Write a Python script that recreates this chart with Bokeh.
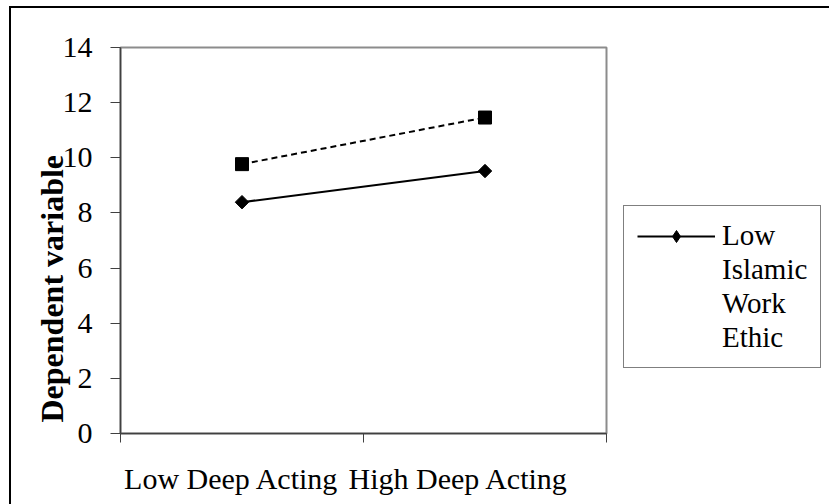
import math
from bokeh.plotting import figure
from bokeh.models import Range1d, FixedTicker, Legend, LegendItem, ColumnDataSource, Title
from bokeh.embed import file_html
from bokeh.resources import INLINE

categories = ["Low Deep Acting", "High Deep Acting"]
cat_pos = [0.5, 1.5]
low_iwe = [8.39, 9.52]
high_iwe = [9.77, 11.46]
y_ticks = [0, 2, 4, 6, 8, 10, 12, 14]
y_title = "Dependent variable"
legend_lines = ["Low", "Islamic", "Work", "Ethic"]

FONT = "Liberation Serif"
# where the category labels sit (they are drawn slightly left of the category centres)
label_pos = [0.457, 1.391]

p = figure(frame_width=486, frame_height=386, output_backend="svg", toolbar_location=None,
           x_range=Range1d(0, 2), y_range=Range1d(0, 14),
           min_border_left=109, min_border_top=39, min_border_bottom=71, min_border_right=5)
p.styles = {"border-top": "2px solid black", "border-left": "2px solid black",
            "margin-left": "9px", "margin-top": "6px"}
p.xgrid.visible = False
p.ygrid.visible = False
p.outline_line_color = "#8c8c8c"
p.outline_line_width = 2

# x axis
xa = p.xaxis[0]
xa.ticker = FixedTicker(ticks=label_pos, minor_ticks=[0, 1, 2])
xa.major_label_overrides = {pos: c for pos, c in zip(label_pos, categories)}
xa.major_tick_in = 0
xa.major_tick_out = 0
xa.minor_tick_in = 0
xa.minor_tick_out = 9
xa.minor_tick_line_color = "#404040"
xa.axis_line_color = "#404040"
xa.axis_line_width = 1.5
xa.major_label_standoff = 19
xa.major_label_text_font = FONT
xa.major_label_text_font_size = "30px"
xa.major_label_text_color = "black"

# y axis
ya = p.yaxis[0]
ya.ticker = FixedTicker(ticks=y_ticks, minor_ticks=[])
ya.major_tick_in = 0
ya.major_tick_out = 10
ya.major_tick_line_color = "#404040"
ya.axis_line_color = "#404040"
ya.axis_line_width = 1.5
ya.major_label_standoff = 18
ya.major_label_text_font = FONT
ya.major_label_text_font_size = "30px"
ya.major_label_text_color = "black"

# y-axis title (sits low and overlaps the tick labels, as in the original)
yt = Title(text=y_title, align="left", offset=11, standoff=-21,
           text_font=FONT, text_font_style="bold", text_font_size="32px",
           text_color="black")
p.add_layout(yt, "left")

src_low = ColumnDataSource(dict(x=cat_pos, y=low_iwe))
src_high = ColumnDataSource(dict(x=cat_pos, y=high_iwe))

l_low = p.line("x", "y", source=src_low, line_color="black", line_width=2)
m_low = p.scatter("x", "y", source=src_low, marker="square", angle=math.pi / 4,
                  size=9.5, fill_color="black", line_color="black")
l_high = p.line("x", "y", source=src_high, line_color="black", line_width=2, line_dash="6 4")
m_high = p.scatter("x", "y", source=src_high, marker="square", size=13,
                   fill_color="black", line_color="black")

# legend-only renderers (zero size in the plot; the legend sizes its own glyph)
dummy = p.line("x", "y", source=src_low, line_alpha=0)
leg_marker = p.scatter("x", "y", source=src_low, marker="diamond", size=0,
                       fill_color="black", line_color="black")

items = [LegendItem(label=legend_lines[0], renderers=[l_low, leg_marker])]
for t in legend_lines[1:]:
    items.append(LegendItem(label=t, renderers=[dummy]))

legend = Legend(items=items, location=(17, 65), border_line_color="black",
                border_line_width=1, padding=13, spacing=1, glyph_width=78,
                glyph_height=30, label_height=30, label_standoff=7,
                label_text_font=FONT, label_text_font_size="29px",
                label_text_color="black",
                background_fill_alpha=1, margin=0)
p.add_layout(legend, "right")

open("out.html", "w").write(file_html(p, INLINE))
